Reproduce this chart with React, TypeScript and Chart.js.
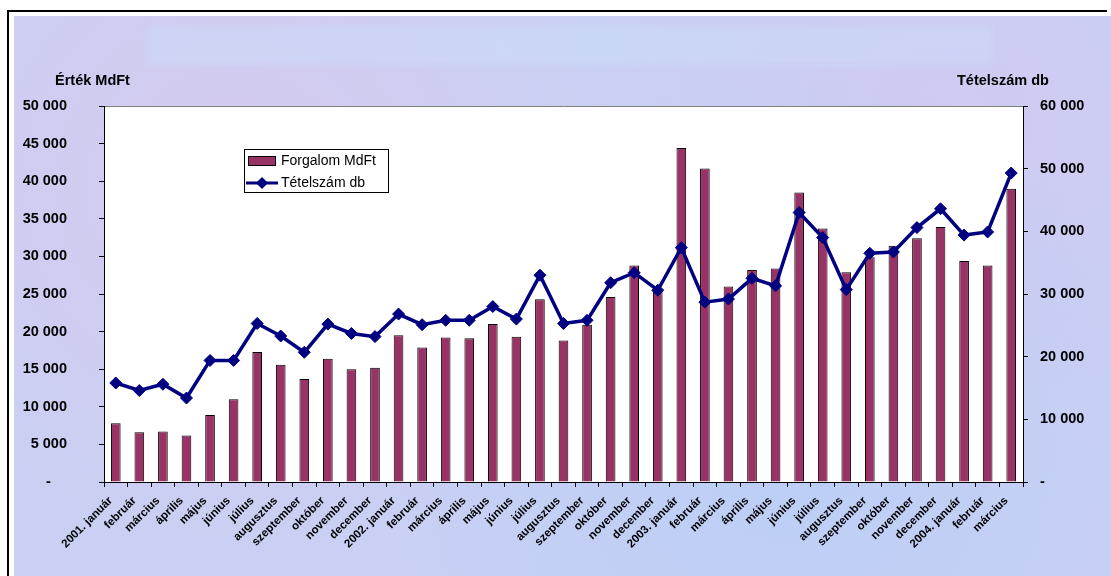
import React, { useEffect, useRef } from "react";
import { Chart, registerables } from "chart.js";

Chart.register(...registerables);

const months = [
  "2001. január", "február", "március", "április", "május", "június",
  "július", "augusztus", "szeptember", "október", "november", "december",
  "2002. január", "február", "március", "április", "május", "június",
  "július", "augusztus", "szeptember", "október", "november", "december",
  "2003. január", "február", "március", "április", "május", "június",
  "július", "augusztus", "szeptember", "október", "november", "december",
  "2004. január", "február", "március",
];

const forgalomMdFt = [
  7800, 6600, 6700, 6200, 8900, 11000, 17300, 15600, 13700, 16400, 15000, 15200,
  19500, 17900, 19200, 19100, 21000, 19300, 24300, 18800, 20900, 24600, 28800, 25500,
  44400, 41700, 26000, 28200, 28400, 38500, 33700, 27900, 29900, 31400, 32400, 33900,
  29400, 28800, 39000,
];

const tetelszamDb = [
  15800, 14600, 15600, 13400, 19400, 19400, 25300, 23300, 20700, 25200, 23700, 23200,
  26800, 25100, 25800, 25800, 28000, 26000, 33000, 25300, 25800, 31800, 33400, 30600,
  37400, 28700, 29200, 32500, 31300, 43000, 39000, 30700, 36500, 36700, 40600, 43600,
  39400, 39900, 49300,
];

const seriesNames = ["Forgalom MdFt", "Tételszám db"];
const axisTitles = ["Érték MdFt", "Tételszám db"];

const FONT = '"Liberation Sans", Arial, sans-serif';
const BAR_COLOR = "#993366";
const LINE_COLOR = "#000080";

function fmt(v: number): string {
  return String(Math.round(v)).replace(/\B(?=(\d{3})+(?!\d))/g, " ");
}

const plotPlugin = {
  id: "plotDecor",
  beforeDraw(chart: any) {
    const { ctx, chartArea: a } = chart;
    ctx.save();
    ctx.fillStyle = "#ffffff";
    ctx.fillRect(a.left, a.top, a.right - a.left, a.bottom - a.top);
    ctx.strokeStyle = "#808080";
    ctx.lineWidth = 1;
    ctx.beginPath();
    ctx.moveTo(a.left, a.top + 0.5);
    ctx.lineTo(a.right, a.top + 0.5);
    ctx.stroke();
    ctx.restore();
  },
  afterDraw(chart: any) {
    const { ctx } = chart;
    ctx.save();
    ctx.fillStyle = "#000";
    ctx.font = `bold 14.5px ${FONT}`;
    ctx.textBaseline = "middle";
    ctx.textAlign = "left";
    ctx.fillText(axisTitles[0], 55, 81);
    ctx.fillText(axisTitles[1], 957, 81);

    const lx = 244.5, ly = 149.5, lw = 144, lh = 43;
    ctx.fillStyle = "#fff";
    ctx.fillRect(lx, ly, lw, lh);
    ctx.strokeStyle = "#000";
    ctx.lineWidth = 1;
    ctx.strokeRect(lx, ly, lw, lh);

    ctx.fillStyle = BAR_COLOR;
    ctx.fillRect(248.5, 156.5, 27, 9);
    ctx.strokeRect(248.5, 156.5, 27, 9);

    ctx.strokeStyle = LINE_COLOR;
    ctx.lineWidth = 3;
    ctx.beginPath();
    ctx.moveTo(246, 183);
    ctx.lineTo(278, 183);
    ctx.stroke();
    ctx.fillStyle = LINE_COLOR;
    ctx.beginPath();
    const cx = 262, cy = 183, r = 6;
    ctx.moveTo(cx, cy - r);
    ctx.lineTo(cx + r, cy);
    ctx.lineTo(cx, cy + r);
    ctx.lineTo(cx - r, cy);
    ctx.closePath();
    ctx.fill();

    ctx.fillStyle = "#000";
    ctx.font = `14px ${FONT}`;
    ctx.textBaseline = "middle";
    ctx.fillText(seriesNames[0], 281, 161);
    ctx.fillText(seriesNames[1], 281, 183);
    ctx.restore();
  },
};

export default function App() {
  const ref = useRef<HTMLCanvasElement | null>(null);

  useEffect(() => {
    if (!ref.current) return;
    const chart = new Chart(ref.current, {
      type: "bar",
      data: {
        labels: months,
        datasets: [
          {
            type: "line",
            label: seriesNames[1],
            data: tetelszamDb,
            yAxisID: "y1",
            borderColor: LINE_COLOR,
            backgroundColor: LINE_COLOR,
            borderWidth: 3.5,
            pointStyle: "rectRot",
            pointRadius: 6,
            pointBorderWidth: 1,
            pointBackgroundColor: LINE_COLOR,
            pointBorderColor: LINE_COLOR,
            tension: 0,
            order: 0,
          } as any,
          {
            type: "bar",
            label: seriesNames[0],
            data: forgalomMdFt,
            yAxisID: "y",
            backgroundColor: BAR_COLOR,
            borderColor: "#000",
            borderWidth: 1,
            barPercentage: 0.41,
            categoryPercentage: 1,
            order: 1,
          } as any,
        ],
      },
      options: {
        responsive: false,
        animation: false,
        events: [],
        layout: { padding: { top: 106, left: 0, right: 0, bottom: 0 } },
        plugins: {
          legend: { display: false },
          title: { display: false },
          tooltip: { enabled: false },
        },
        scales: {
          x: {
            type: "category",
            offset: true,
            grid: {
              offset: true,
              drawOnChartArea: false,
              drawTicks: true,
              tickLength: 5,
              color: "#000",
            },
            border: { display: true, color: "#000", width: 1 },
            ticks: {
              autoSkip: false,
              maxRotation: 45,
              minRotation: 45,
              padding: 7,
              labelOffset: -5,
              color: "#000",
              font: { family: FONT, size: 11.5, weight: "bold" },
            },
            afterFit: (s: any) => {
              s.height = 94;
            },
          },
          y: {
            position: "left",
            min: 0,
            max: 50000,
            ticks: {
              stepSize: 5000,
              padding: 32,
              color: "#000",
              font: { family: FONT, size: 14.5, weight: "bold" },
              callback: (v: any) => (Number(v) === 0 ? "-\u00a0\u00a0\u00a0\u00a0" : fmt(Number(v))),
            },
            grid: { drawOnChartArea: false, tickLength: 5, color: "#000" },
            border: { display: true, color: "#000", width: 1 },
            afterFit: (s: any) => {
              s.width = 104;
            },
          },
          y1: {
            position: "right",
            min: 0,
            max: 60000,
            ticks: {
              stepSize: 10000,
              padding: 12,
              color: "#000",
              font: { family: FONT, size: 14.5, weight: "bold" },
              callback: (v: any) => (Number(v) === 0 ? "-" : fmt(Number(v))),
            },
            grid: { drawOnChartArea: false, tickLength: 5, color: "#000" },
            border: { display: true, color: "#000", width: 1 },
            afterFit: (s: any) => {
              s.width = 88;
            },
          },
        },
      } as any,
      plugins: [plotPlugin],
    });
    return () => chart.destroy();
  }, []);

  return (
    <div>
      <div
        style={{
          position: "absolute",
          left: 7,
          top: 10,
          width: 1100,
          height: 566,
          borderTop: "2px solid #000",
          borderLeft: "2px solid #000",
          boxSizing: "border-box",
          background: "#fff",
        }}
      />
      <div
        style={{
          position: "absolute",
          left: 14,
          top: 16,
          width: 1097,
          height: 560,
          background:
            "radial-gradient(circle at 20% 30%, rgba(225,195,235,0.5), transparent 40%), radial-gradient(circle at 70% 80%, rgba(175,205,250,0.5), transparent 45%), radial-gradient(circle at 85% 20%, rgba(215,195,240,0.45), transparent 35%), #c9d0f3",
        }}
      />
      <div
        style={{
          position: "absolute",
          left: 147,
          top: 26,
          width: 845,
          height: 39,
          background: "rgba(205,222,250,0.45)",
          filter: "blur(3px)",
        }}
      />
      <canvas
        ref={ref}
        width={1111}
        height={576}
        style={{ position: "absolute", left: 0, top: 0, width: 1111, height: 576 }}
      />
    </div>
  );
}
